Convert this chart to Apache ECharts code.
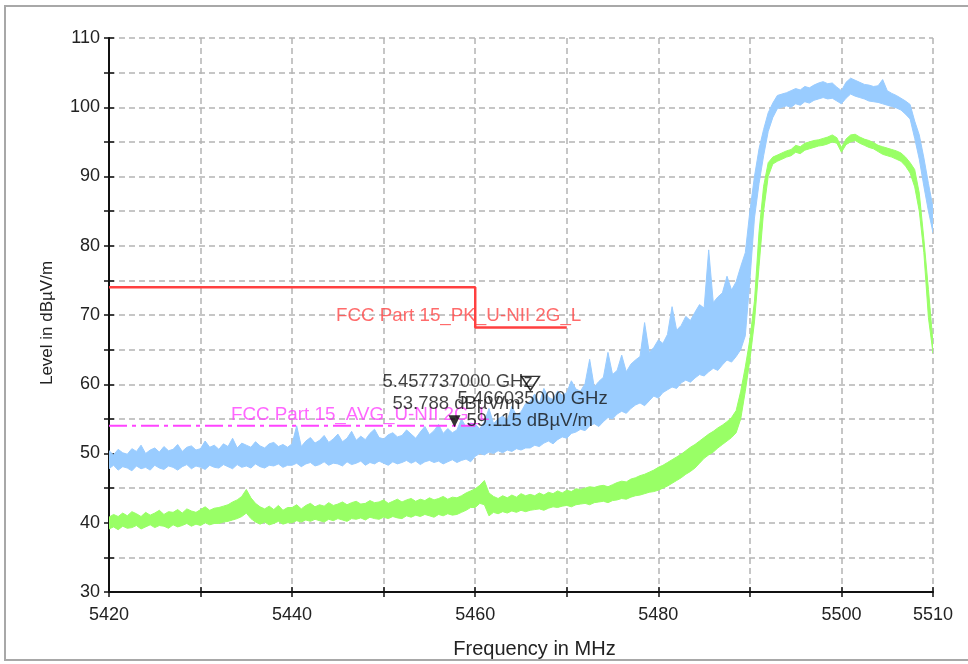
<!DOCTYPE html>
<html><head><meta charset="utf-8">
<script src="https://cdn.jsdelivr.net/npm/echarts@6/dist/echarts.min.js"></script>
<style>html,body{margin:0;padding:0;background:#fff}#c{width:968px;height:664px}</style>
</head><body><div id="c"></div>
<script>
// ---- sample frequencies (MHz) ----
const freqs = [
5420,5420.5,5421,5421.5,5422,5422.5,5423,5423.5,5424,5424.5,5425,5425.5,5426,5426.5,5427,5427.5,5428,5428.5,5429,5429.5,
5430,5430.5,5431,5431.5,5432,5432.5,5433,5433.5,5434,5434.5,5435,5435.5,5436,5436.5,5437,5437.5,5438,5438.5,5439,5439.5,
5440,5440.5,5441,5441.5,5442,5442.5,5443,5443.5,5444,5444.5,5445,5445.5,5446,5446.5,5447,5447.5,5448,5448.5,5449,5449.5,
5450,5450.5,5451,5451.5,5452,5452.5,5453,5453.5,5454,5454.5,5455,5455.5,5456,5456.5,5457,5457.5,5458,5458.5,5459,5459.5,
5460,5460.5,5461,5461.5,5462,5462.5,5463,5463.5,5464,5464.5,5465,5465.5,5466,5466.5,5467,5467.5,5468,5468.5,5469,5469.5,
5470,5470.5,5471,5471.5,5472,5472.5,5473,5473.5,5474,5474.5,5475,5475.5,5476,5476.5,5477,5477.5,5478,5478.5,5479,5479.5,
5480,5480.5,5481,5481.5,5482,5482.5,5483,5483.5,5484,5484.5,5485,5485.5,5486,5486.5,5487,5487.5,5488,5488.5,5489,5489.5,
5490,5490.5,5491,5491.5,5492,5492.5,5493,5493.5,5494,5494.5,5495,5495.5,5496,5496.5,5497,5497.5,5498,5498.5,5499,5499.5,
5500,5500.5,5501,5501.5,5502,5502.5,5503,5503.5,5504,5504.5,5505,5505.5,5506,5506.5,5507,5507.5,5508,5508.5,5509,5509.5,
5510];

// ---- peak trace (blue): lower / upper envelope, dBµV/m ----
const peakLow = [
47.8,48.3,47.6,48.1,47.9,47.5,48.2,47.8,48.0,47.6,
48.3,47.9,47.7,48.2,48.0,47.6,48.1,48.4,47.8,48.2,
48.0,47.7,48.3,48.0,47.9,48.4,48.1,47.8,48.4,48.0,
48.2,47.9,48.5,48.1,47.9,48.3,48.2,48.5,48.0,48.3,
48.3,48.6,48.1,48.5,48.7,48.2,48.4,48.8,48.3,48.6,
48.5,48.2,48.8,48.4,48.6,48.9,48.3,48.7,48.5,48.9,
48.6,48.3,48.8,48.5,48.7,49.0,48.6,48.9,48.4,48.8,
49.0,48.7,48.9,48.5,48.8,49.1,48.7,49.0,49.2,48.8,
49.6,50.0,49.8,50.2,50.0,50.4,50.1,50.5,50.3,50.7,50.5,50.8,
50.8,51.2,51.0,51.5,51.8,51.4,52.0,52.4,52.2,52.9,
53.1,53.5,53.3,54.0,54.3,53.9,54.6,55.2,55.0,55.7,
56.1,55.8,56.5,57.0,57.3,56.9,57.6,58.3,58.0,58.8,
59.2,59.6,59.4,60.2,60.6,60.3,60.9,61.4,61.2,61.8,
62.3,62.0,62.8,63.5,63.2,64.0,
65.0,67.0,75.0,84.0,89.0,93.0,96.5,98.5,
99.8,100.0,100.2,100.0,100.5,100.3,100.8,100.6,101.0,101.2,
101.4,101.2,101.3,100.9,100.5,101.3,101.9,101.6,101.4,101.2,
100.9,100.8,100.7,100.5,100.3,100.1,99.9,99.6,99.0,98.3,
95.5,92.5,88.6,85.0,81.9];
const peakHigh = [
50.4,49.8,50.6,50.1,49.9,50.7,50.3,51.2,50.0,50.5,
50.8,50.2,51.0,50.4,50.6,51.3,50.3,50.9,51.1,50.5,
50.7,51.8,50.9,51.2,50.6,51.4,51.0,52.2,50.8,51.5,
51.2,50.9,51.7,51.1,50.8,51.4,51.6,51.0,51.3,50.9,
51.4,54.0,51.0,51.8,52.3,51.5,51.9,52.6,51.6,52.1,
52.8,51.7,52.2,53.2,51.9,52.5,52.0,52.9,53.5,52.3,
52.1,52.7,53.0,52.4,52.6,53.4,52.8,52.2,53.1,53.9,
52.7,53.3,54.2,52.9,53.6,53.0,53.4,55.0,53.8,54.4,
54.2,53.6,54.6,56.5,54.3,55.0,55.4,54.8,56.8,55.5,56.0,57.2,
57.5,58.6,57.2,59.4,58.1,57.8,59.0,58.4,58.8,60.5,
59.3,59.0,60.1,63.6,59.6,60.4,61.0,64.6,61.4,62.0,
64.2,61.8,62.9,63.5,64.0,68.9,64.6,65.3,66.4,65.9,
67.2,71.2,67.8,68.5,69.8,69.2,70.4,71.5,71.0,79.4,
71.8,72.6,73.2,75.6,73.6,74.8,
77.0,79.0,85.0,90.0,94.0,96.8,99.2,100.6,
101.7,101.9,102.1,102.4,102.7,102.5,103.0,102.8,103.2,103.5,
103.7,103.4,103.5,102.9,102.4,103.6,104.2,103.9,103.6,103.3,
103.2,103.0,103.1,104.0,102.4,102.0,101.7,101.3,100.9,100.4,
98.0,96.0,92.7,89.0,85.5];

// ---- average trace (green): lower / upper envelope, dBµV/m ----
const avgLow = [
39.1,39.4,39.0,39.5,39.2,39.3,39.6,39.1,39.4,39.7,
39.3,39.6,39.5,39.2,39.7,39.4,39.6,39.9,39.5,39.8,
39.6,40.0,39.7,39.9,39.9,40.1,40.2,40.4,40.6,40.9,
41.4,40.6,40.1,39.8,40.1,39.7,39.9,40.2,39.8,40.0,
40.0,40.3,40.1,40.4,40.2,40.5,40.3,40.1,40.5,40.3,
40.6,40.4,40.2,40.6,40.5,40.7,40.4,40.8,40.6,40.5,
40.8,40.6,40.9,40.7,40.6,41.0,40.8,41.1,40.9,41.2,
41.0,40.8,41.2,41.0,41.3,41.1,41.2,41.5,41.8,42.2,
42.2,42.8,42.6,41.0,41.5,41.3,41.6,41.4,41.7,41.5,41.8,41.6,
41.8,41.9,42.0,41.8,42.1,42.3,42.2,42.4,42.5,42.3,
42.6,42.7,42.8,42.6,42.9,43.0,43.1,42.9,43.2,43.3,
43.5,43.4,43.7,43.9,44.0,44.2,44.4,44.5,44.7,45.0,
45.3,45.7,46.1,46.5,47.0,47.4,47.9,48.6,49.3,49.8,
50.2,50.8,51.3,51.8,52.3,53.0,
55.0,59.0,63.5,69.0,77.0,85.0,90.0,91.8,
92.2,92.5,92.8,93.0,93.5,93.3,93.8,94.0,94.2,94.4,
94.5,94.7,95.0,94.8,93.5,94.6,95.0,95.2,94.8,94.5,
94.2,94.0,93.6,93.2,93.0,92.8,92.5,92.2,91.5,90.5,
88.5,85.0,79.0,69.6,64.5];
const avgHigh = [
40.8,41.2,40.9,41.4,41.0,41.6,41.3,40.9,41.5,41.1,
41.4,41.8,41.2,41.6,41.5,41.9,41.4,42.0,41.7,41.5,
41.9,42.3,41.8,42.1,42.2,42.4,42.6,43.0,43.3,43.8,
44.8,43.6,42.8,42.3,42.0,42.4,41.9,42.5,41.8,42.2,
42.2,42.6,42.0,42.5,42.8,42.3,42.6,42.4,42.9,42.5,
42.7,43.0,42.6,42.9,43.1,42.7,42.8,43.2,42.9,43.0,
43.3,42.8,43.1,43.4,43.0,43.3,43.5,43.1,43.4,43.2,
43.6,43.3,43.5,43.8,43.4,43.7,43.6,43.9,44.3,44.6,
44.9,45.4,46.1,44.3,43.8,43.5,43.9,43.6,44.0,43.7,44.2,43.9,
44.1,43.9,44.3,44.0,44.4,44.2,44.6,44.3,44.7,44.5,
44.9,44.8,45.0,45.2,45.1,45.3,45.4,45.2,45.5,45.8,
46.0,45.9,46.3,46.5,46.8,47.0,47.3,47.6,48.0,48.3,
48.7,49.1,49.5,49.9,50.4,50.9,51.3,51.8,52.3,52.8,
53.2,53.7,54.1,54.6,55.2,56.2,
59.0,62.5,66.5,72.0,82.0,88.6,92.0,92.8,
93.1,93.4,93.7,93.9,94.5,94.3,94.8,95.0,95.2,95.3,
95.5,95.7,96.0,95.6,94.2,95.4,96.0,96.1,95.7,95.4,
95.2,94.9,94.5,94.3,94.1,93.9,93.7,93.4,92.8,92.0,
91.0,87.6,81.0,73.7,66.0];

// ---- limit lines ----
const pkLimitName = 'FCC Part 15_PK_U-NII 2G_L';
const pkLimitFreqs = [5420, 5460, 5460, 5470];
const pkLimitLevels = [74, 74, 68.2, 68.2];
const avgLimitName = 'FCC Part 15_AVG_U-NII 2G_L';
const avgLimitFreqs = [5420, 5460];
const avgLimitLevels = [54, 54];

// ---- markers ----
const markerFreqs = [5457.737, 5466.035];
const markerLevels = [53.788, 59.115];
const markerFreqText = ['5.457737000 GHz', '5.466035000 GHz'];
const markerLevelText = ['53.788 dBµV/m', '59.115 dBµV/m'];

// ---- axes ----
const xMin = 5420, xMax = 5510, xStep = 10;
const yMin = 30, yMax = 110, yStep = 5;
const xTitle = 'Frequency in MHz';
const yTitle = 'Level in dBµV/m';

const FONT = '"Liberation Sans", Arial, sans-serif';
const C_BLUE = '#99ccff', C_GREEN = '#99ff66', C_RED = '#ff4040', C_MAG = '#ff44ff';

const pairs = (xs, ys) => xs.map((x, i) => [x, ys[i]]);
const triples = (lo, hi) => freqs.map((f, i) => [f, lo[i], hi[i]]);

// band drawn as one polygon through the axis scales (api.coord)
function bandSeries(name, lo, hi, color) {
  return {
    type: 'custom', name: name, silent: true, z: 2,
    data: triples(lo, hi),
    encode: {x: 0, y: [1, 2]},
    clip: true,
    renderItem: function (params, api) {
      if (params.dataIndex !== 0) return null;
      const top = [], bot = [];
      for (let i = 0; i < freqs.length; i++) {
        top.push(api.coord([freqs[i], hi[i]]));
        bot.push(api.coord([freqs[i], lo[i]]));
      }
      const pts = top.concat(bot.reverse());
      return {
        type: 'polygon',
        shape: {points: pts},
        style: {fill: color, stroke: color, lineWidth: 1}
      };
    }
  };
}

const chart = echarts.init(document.getElementById('c'), null, {renderer: 'canvas'});

const splitStyle = {show: true, lineStyle: {color: '#b4b4b4', width: 1.5, type: [6, 4]}};
const tickStyle = {lineStyle: {color: '#111', width: 1.5}, length: 5};

chart.setOption({
  animation: false,
  backgroundColor: '#fff',
  textStyle: {fontFamily: FONT},
  grid: {left: 109, right: 35, top: 38, bottom: 69, containLabel: false},
  graphic: [{
    type: 'rect', shape: {x: 5, y: 6, width: 975, height: 654},
    style: {fill: 'none', stroke: '#a8a8a8', lineWidth: 2}, z: 0, silent: true
  }],
  xAxis: [{
    type: 'value', min: xMin, max: xMax, interval: xStep, position: 'bottom',
    axisLine: {show: true, onZero: false, lineStyle: {color: '#111', width: 2}},
    axisTick: Object.assign({show: true, inside: false}, tickStyle),
    axisLabel: {
      margin: 14, fontSize: 18, color: '#222', fontFamily: FONT,
      formatter: v => ((v - xMin) % 20 === 0 || v === xMax) ? String(v) : ''
    },
    splitLine: splitStyle,
    name: xTitle, nameLocation: 'middle', nameGap: 47,
    nameTextStyle: {fontSize: 20, color: '#222', fontFamily: FONT, padding: [0, 0, 0, 27]}
  }, {
    type: 'value', min: xMin, max: xMax, interval: xStep, position: 'bottom', gridIndex: 0,
    axisLine: {show: false}, axisTick: Object.assign({show: true, inside: true}, tickStyle),
    axisLabel: {show: false}, splitLine: {show: false}
  }],
  yAxis: [{
    type: 'value', min: yMin, max: yMax, interval: yStep, position: 'left',
    axisLine: {show: true, onZero: false, lineStyle: {color: '#111', width: 2}},
    axisTick: Object.assign({show: true, inside: false}, tickStyle),
    axisLabel: {
      margin: 9, fontSize: 18, color: '#222', fontFamily: FONT,
      formatter: v => (v % 10 === 0) ? String(v) : ''
    },
    splitLine: splitStyle,
    name: yTitle, nameLocation: 'middle', nameGap: 53, nameRotate: 90,
    nameTextStyle: {fontSize: 17, color: '#222', fontFamily: FONT, padding: [0, 16, 0, 0]}
  }, {
    type: 'value', min: yMin, max: yMax, interval: yStep, position: 'left', gridIndex: 0,
    axisLine: {show: false}, axisTick: Object.assign({show: true, inside: true}, tickStyle),
    axisLabel: {show: false}, splitLine: {show: false}
  }],
  series: [
    bandSeries('PK', peakLow, peakHigh, C_BLUE),
    bandSeries('AVG', avgLow, avgHigh, C_GREEN),
    {type: 'line', name: pkLimitName, data: pairs(pkLimitFreqs, pkLimitLevels), showSymbol: false, silent: true,
     lineStyle: {color: C_RED, width: 2.5}, z: 4},
    {type: 'line', name: avgLimitName, data: pairs(avgLimitFreqs, avgLimitLevels), showSymbol: false, silent: true,
     lineStyle: {color: C_MAG, width: 2, type: [18, 5, 4, 5]}, z: 4},
    {type: 'scatter', name: 'limit labels', symbolSize: 1, itemStyle: {color: 'rgba(0,0,0,0)'}, silent: true, z: 5,
     label: {show: true, position: 'inside', align: 'left', verticalAlign: 'middle', fontSize: 18.8, fontFamily: FONT},
     data: [
       {value: [pkLimitFreqs[0], pkLimitLevels[0]], label: {formatter: pkLimitName, color: '#ff4646', offset: [227, 29]}},
       {value: [avgLimitFreqs[0], avgLimitLevels[0]], label: {formatter: avgLimitName, color: '#ff40ff', offset: [122, -11]}}
     ]},
    {type: 'scatter', name: 'marker text', symbolSize: 1, itemStyle: {color: 'rgba(0,0,0,0)'}, silent: true, z: 6,
     label: {show: true, position: 'inside', align: 'left', verticalAlign: 'middle', fontSize: 18.5, color: '#111', fontFamily: FONT},
     data: [
       {value: [markerFreqs[0], markerLevels[0]], label: {formatter: markerFreqText[0], offset: [-72, -45]}},
       {value: [markerFreqs[0], markerLevels[0]], label: {formatter: markerLevelText[0], offset: [-62, -23]}},
       {value: [markerFreqs[1], markerLevels[1]], label: {formatter: markerFreqText[1], offset: [-73, 9]}},
       {value: [markerFreqs[1], markerLevels[1]], label: {formatter: markerLevelText[1], offset: [-64, 31]}}
     ]},
    {type: 'scatter', name: 'markers', silent: true, z: 7,
     symbol: 'path://M0,0L10,0L5,10Z',
     data: [
       {value: [markerFreqs[0], markerLevels[0]], symbolSize: [12, 12], symbolOffset: [0, -6],
        itemStyle: {color: '#000'}},
       {value: [markerFreqs[1], markerLevels[1]], symbolSize: [18, 14], symbolOffset: [0, -7],
        itemStyle: {color: 'rgba(255,255,255,0)', borderColor: '#000', borderWidth: 1.5}}
     ]}
  ]
});
</script>
</body></html>
